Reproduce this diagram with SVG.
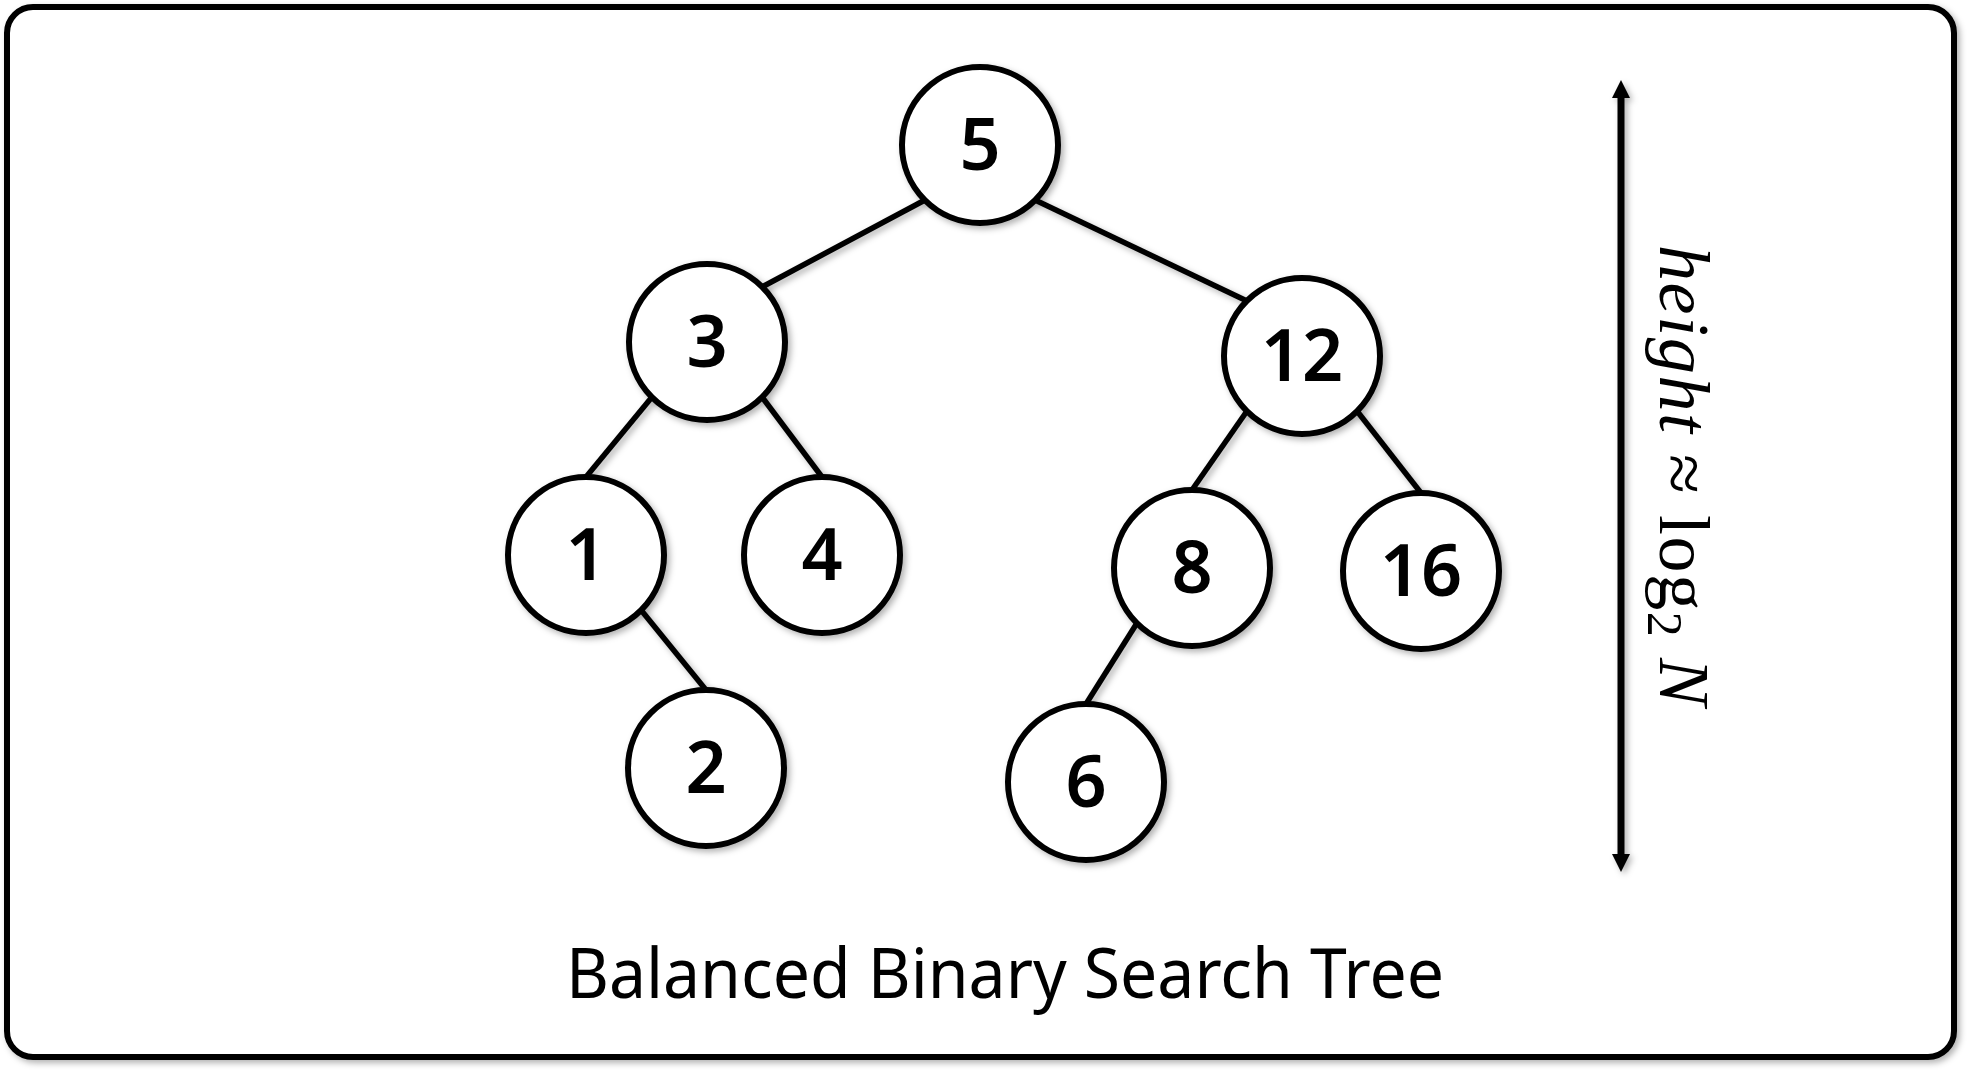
<svg xmlns="http://www.w3.org/2000/svg" width="1969" height="1074" viewBox="0 0 1969 1074">
<defs>
<filter id="sh" x="-20%" y="-20%" width="140%" height="140%">
<feDropShadow dx="3" dy="3" stdDeviation="3" flood-color="#000" flood-opacity="0.3"/>
</filter>
<filter id="shu" filterUnits="userSpaceOnUse" x="1590" y="60" width="80" height="840">
<feDropShadow dx="3" dy="3" stdDeviation="3" flood-color="#000" flood-opacity="0.3"/>
</filter>
<marker id="ah" viewBox="0 0 18 18" refX="2" refY="9" markerWidth="18" markerHeight="18" markerUnits="userSpaceOnUse" orient="auto-start-reverse">
<path d="M0,0 L18,9 L0,18 Z" fill="#000"/>
</marker>
<style>
.node circle{fill:#fff;stroke:#000;stroke-width:6;filter:url(#sh)}
.node text{font-family:"Noto Sans","Lato",sans-serif;font-size:72px;font-weight:600;text-anchor:middle;fill:#000}
.edge{stroke:#000;stroke-width:5.5;fill:none}
</style>
</defs>
<rect x="7" y="7" width="1947" height="1050" rx="26" ry="26" fill="#fff" stroke="#000" stroke-width="6" filter="url(#sh)"/>
<g id="connectors" filter="url(#sh)">
<line class="edge" x1="925" y1="200" x2="762" y2="287"/>
<line class="edge" x1="1035" y1="200" x2="1247" y2="301"/>
<line class="edge" x1="652" y1="397" x2="586" y2="477"/>
<line class="edge" x1="762" y1="397" x2="822" y2="477"/>
<line class="edge" x1="641" y1="610" x2="706" y2="690"/>
<line class="edge" x1="1247" y1="411" x2="1192" y2="490"/>
<line class="edge" x1="1357" y1="411" x2="1421" y2="493"/>
<line class="edge" x1="1137" y1="623" x2="1086" y2="704"/>
</g>
<g id="n5" class="node"><circle cx="980" cy="145" r="78"/><text x="980" y="170">5</text></g>
<g id="n3" class="node"><circle cx="707" cy="342" r="78"/><text x="707" y="367">3</text></g>
<g id="n12" class="node"><circle cx="1302" cy="356" r="78"/><text x="1302" y="381">12</text></g>
<g id="n1" class="node"><circle cx="586" cy="555" r="78"/><text x="586" y="580">1</text></g>
<g id="n4" class="node"><circle cx="822" cy="555" r="78"/><text x="822" y="580">4</text></g>
<g id="n8" class="node"><circle cx="1192" cy="568" r="78"/><text x="1192" y="593">8</text></g>
<g id="n16" class="node"><circle cx="1421" cy="571" r="78"/><text x="1421" y="596">16</text></g>
<g id="n2" class="node"><circle cx="706" cy="768" r="78"/><text x="706" y="793">2</text></g>
<g id="n6" class="node"><circle cx="1086" cy="782" r="78"/><text x="1086" y="807">6</text></g>
<g id="height-arrow">
<line x1="1621" y1="96" x2="1621" y2="856" stroke="#000" stroke-width="7" marker-start="url(#ah)" marker-end="url(#ah)" filter="url(#shu)"/>
<text transform="translate(1660,476) rotate(90)" x="-231" y="0" textLength="461" font-family="Liberation Serif, serif" font-size="72" fill="#000"><tspan font-style="italic">height</tspan> ≈ log<tspan font-size="50" dy="12">2</tspan><tspan dy="-12" font-style="italic"> N</tspan></text>
</g>
<text id="title" x="1005" y="998" font-family="Noto Sans, Lato, sans-serif" font-size="70" text-anchor="middle" textLength="878" lengthAdjust="spacingAndGlyphs" fill="#000">Balanced Binary Search Tree</text>
</svg>
